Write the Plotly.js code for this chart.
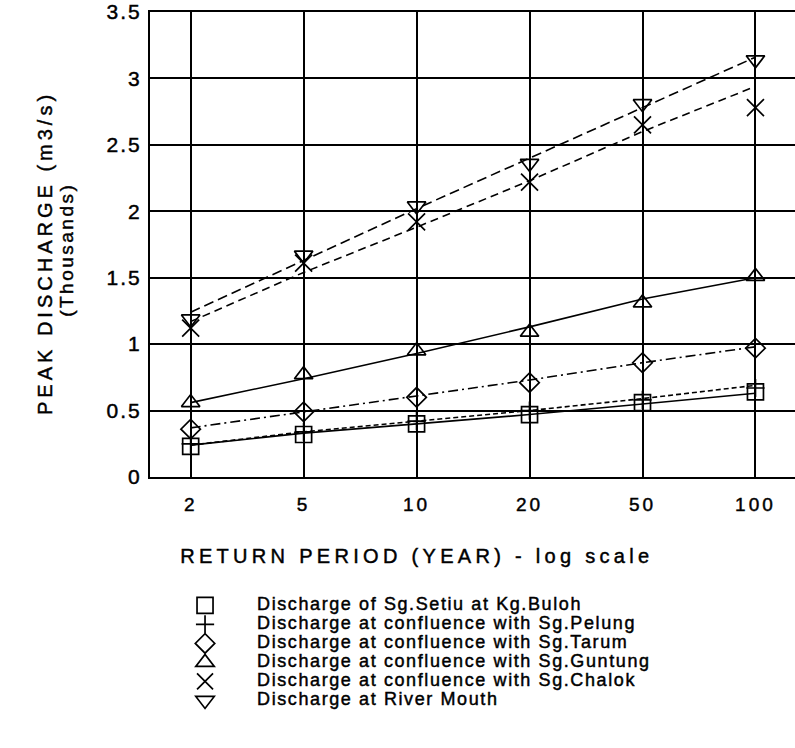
<!DOCTYPE html>
<html>
<head>
<meta charset="utf-8">
<script src="https://cdn.plot.ly/plotly-3.0.1.min.js"></script>
<style>
  html, body { margin: 0; padding: 0; background: #fff; }
  #chart { width: 795px; height: 748px; }
  .xtick text { letter-spacing: 3px; }
  .ytick text { letter-spacing: 2px; }
  .legendtext { font-size: 18px !important; letter-spacing: 1.6px; }
  #chart text { stroke: #000; stroke-width: 0.45px; }
</style>
</head>
<body>
<div id="chart"></div>
<script>
// Return periods (years), equally spaced categories as drawn
const periods = ['2', '5', '10', '20', '50', '100'];

// Plotted points (thousands m3/s)
const setiuPts   = [0.23, 0.32, 0.40, 0.47, 0.56, 0.64];
const pelungPts  = [0.25, 0.34, 0.42, 0.50, 0.58, 0.67];
const tarumPts   = [0.36, 0.49, 0.60, 0.71, 0.86, 0.97];
const guntungPts = [0.56, 0.77, 0.95, 1.09, 1.31, 1.51];
const chalokPts  = [1.12, 1.61, 1.92, 2.22, 2.65, 2.78];
const mouthPts   = [1.19, 1.67, 2.04, 2.36, 2.81, 3.14];

// Fitted lines (thousands m3/s)
const setiuFit   = [0.24, 0.33, 0.40, 0.47, 0.55, 0.63];
const pelungFit  = [0.24, 0.34, 0.42, 0.50, 0.59, 0.69];
const tarumFit   = [0.37, 0.49, 0.61, 0.73, 0.86, 0.98];
const guntungFit = [0.56, 0.74, 0.93, 1.13, 1.34, 1.50];
const chalokFit  = [1.17, 1.54, 1.88, 2.23, 2.60, 2.94];
const mouthFit   = [1.24, 1.63, 2.02, 2.40, 2.78, 3.16];

const seriesNames = [
  'Discharge of Sg.Setiu at Kg.Buloh',
  'Discharge at confluence with Sg.Pelung',
  'Discharge at confluence with Sg.Tarum',
  'Discharge at confluence with Sg.Guntung',
  'Discharge at confluence with Sg.Chalok',
  'Discharge at River Mouth'
];

const pts = [setiuPts, pelungPts, tarumPts, guntungPts, chalokPts, mouthPts];
const fits = [setiuFit, pelungFit, tarumFit, guntungFit, chalokFit, mouthFit];
const symbols = ['square-open', 'cross-thin-open', 'diamond-open', 'triangle-up-open', 'x-thin-open', 'triangle-down-open'];
const sizes = [16, 13, 15, 16, 17, 16];
const dashes = ['solid', '5px,3px', '10px,4px,2px,4px', 'solid', '8px,5px', '10px,5px'];

const traces = [];
for (let i = 0; i < pts.length; i++) {
  traces.push({
    x: periods, y: fits[i], type: 'scatter', mode: 'lines',
    line: { color: '#000', width: 1.6, dash: dashes[i] },
    showlegend: false, hoverinfo: 'skip'
  });
}
for (let i = 0; i < pts.length; i++) {
  traces.push({
    x: periods, y: pts[i], type: 'scatter', mode: 'markers', name: seriesNames[i],
    marker: { symbol: symbols[i], size: sizes[i], color: '#000', line: { color: '#000', width: 1.7 } }
  });
}

const fontFam = '"Liberation Sans", Arial, Helvetica, sans-serif';
const layout = {
  width: 795, height: 748,
  margin: { l: 150, r: 0, t: 12, b: 271 },
  paper_bgcolor: '#fff', plot_bgcolor: '#fff',
  font: { family: fontFam, color: '#000' },
  showlegend: true,
  xaxis: {
    type: 'category', range: [-0.36, 5.35],
    showgrid: true, gridcolor: '#000', gridwidth: 2,
    showline: true, linecolor: '#000', linewidth: 2, mirror: true,
    ticks: '', tickfont: { size: 19, color: '#000' },
    ticklabelstandoff: 9, zeroline: false
  },
  yaxis: {
    range: [0, 3.5], dtick: 0.5, tick0: 0,
    showgrid: true, gridcolor: '#000', gridwidth: 2,
    showline: true, linecolor: '#000', linewidth: 2, mirror: false,
    zeroline: false, ticks: '', tickfont: { size: 21, color: '#000' },
    ticklabelstandoff: 2
  },
  legend: {
    x: 0.0047, y: -0.245, xanchor: 'left', yanchor: 'top',
    font: { size: 12, family: fontFam, color: '#000' },
    bgcolor: 'rgba(0,0,0,0)', borderwidth: 0,
    itemwidth: 94, traceorder: 'normal'
  },
  annotations: [
    { text: 'PEAK DISCHARGE (m3/s)', xref: 'paper', yref: 'paper', x: -0.1628, y: 0.4817,
      xanchor: 'center', yanchor: 'middle', textangle: -90, showarrow: false,
      font: { size: 20, family: fontFam, color: '#000' } },
    { text: '(Thousands)', xref: 'paper', yref: 'paper', x: -0.1302, y: 0.488,
      xanchor: 'center', yanchor: 'middle', textangle: -90, showarrow: false,
      font: { size: 19, family: fontFam, color: '#000' } },
    { text: 'RETURN PERIOD (YEAR) - log scale', xref: 'paper', yref: 'paper', x: 0.414, y: -0.170,
      xanchor: 'center', yanchor: 'middle', showarrow: false,
      font: { size: 20, family: fontFam, color: '#000' } }
  ]
};

Plotly.newPlot('chart', traces, layout, { staticPlot: true }).then(function () {
  const ann = document.querySelectorAll('.annotation-text');
  ann.forEach(function (t) {
    const s = t.textContent;
    if (s.indexOf('PEAK') === 0) t.style.letterSpacing = '4px';
    else if (s.indexOf('(Thousands)') === 0) t.style.letterSpacing = '2.5px';
    else if (s.indexOf('RETURN') === 0) t.style.letterSpacing = '4.3px';
  });
});
</script>
</body>
</html>
